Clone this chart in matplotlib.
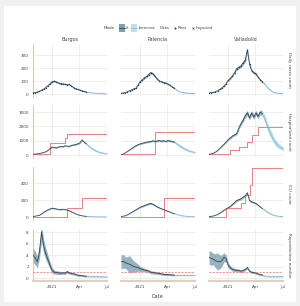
import matplotlib
matplotlib.use('Agg')
import matplotlib.pyplot as plt
from matplotlib.patches import Rectangle
import numpy as np
import pandas as pd

# ---------------- data ----------------
regions = ['Burgos', 'Palencia', 'Valladolid']
row_labels = ['Daily cases count', 'Hospitalized count', 'ICU count', 'Reproduction number']
dates = pd.date_range('2020-10-31', periods=36, freq='7D')
fit_end = 25
xtick_dates = ['2021-01-01', '2021-04-01', '2021-07-01']
xtick_labels = ['2021', 'Apr', 'Jul']
row_yticks = [[0, 100, 200, 300], [0, 1000, 2000, 3000], [0, 200, 400], [0, 2, 4, 6, 8]]

cases_burgos = [10, 10, 15, 20, 30, 38, 50, 65, 80, 95, 100, 92, 85, 80, 78, 76, 70, 74, 62, 50,
                42, 35, 30, 25, 20, 15, 12, 10, 8, 6, 5, 4, 3, 3, 2, 2]
cases_palencia = [5, 8, 10, 18, 25, 32, 40, 45, 70, 95, 110, 125, 135, 150, 165, 155, 135, 115, 100, 95,
                  88, 85, 75, 68, 55, 45, 32, 20, 15, 12, 9, 7, 5, 4, 3, 3]
cases_valladolid = [10, 10, 12, 18, 25, 35, 45, 60, 80, 105, 120, 140, 165, 195, 205, 215, 240, 260, 340, 230,
                    180, 165, 155, 130, 110, 95, 80, 60, 40, 28, 15, 10, 7, 5, 4, 3]

hosp_burgos = [50, 60, 80, 100, 140, 180, 220, 320, 450, 560, 520, 500, 560, 600, 580, 650, 620, 600, 680, 700,
               740, 780, 850, 1050, 900, 780, 650, 520, 420, 330, 260, 200, 160, 130, 100, 90]
hosp_palencia = [30, 60, 150, 250, 350, 450, 550, 650, 720, 780, 820, 860, 900, 920, 950, 1000, 940, 980, 1020, 960,
                 1000, 950, 1010, 980, 950, 900, 800, 700, 600, 500, 420, 350, 290, 240, 200, 170]
hosp_valladolid = [50, 80, 120, 200, 300, 450, 600, 750, 900, 1080, 1200, 1330, 1420, 1500, 1900, 2200, 2450, 2750,
                   2950, 2600, 2950, 2650, 2950, 2700, 3000, 2900, 2600, 2200, 1800, 1450, 1150, 900, 720, 600, 500, 420]

hcap_burgos = [80] * 8 + [850] * 7 + [1200] + [1450] * 20
hcap_palencia = [50] * 16 + [1600] * 20
hcap_valladolid = [50] * 10 + [350] * 4 + [550] * 4 + [900] * 2 + [1400] * 3 + [1950] * 13

icu_burgos = [5, 10, 15, 20, 35, 55, 70, 85, 95, 105, 100, 95, 90, 88, 92, 90, 82, 75, 62, 50,
              38, 28, 20, 15, 10, 8, 6, 5, 4, 3, 3, 2, 2, 2, 1, 1]
icu_palencia = [5, 10, 15, 25, 40, 55, 70, 85, 100, 115, 125, 135, 145, 155, 160, 150, 135, 120, 108, 98,
                88, 78, 68, 58, 48, 40, 32, 25, 18, 14, 10, 8, 6, 5, 4, 3]
icu_valladolid = [5, 8, 12, 20, 30, 45, 60, 80, 95, 110, 125, 150, 170, 195, 205, 215, 235, 250, 285, 195,
                  180, 170, 160, 140, 120, 100, 85, 65, 50, 35, 25, 18, 12, 8, 6, 5]

icap_burgos = [5] * 16 + [105] * 7 + [225] * 13
icap_palencia = [5] * 20 + [225] * 16
icap_valladolid = [5] * 8 + [105] * 7 + [160] * 2 + [260] * 2 + [380] + [580] * 16

r_burgos = [4.0, 3.5, 2.8, 4.5, 8.0, 5.5, 4.2, 3.2, 2.2, 1.3, 1.0, 0.95, 0.9, 0.85, 0.9, 0.85, 1.1, 0.9,
            0.8, 0.75, 0.6, 0.5, 0.45, 0.4, 0.35, 0.3, 0.28, 0.26, 0.25, 0.24, 0.23, 0.22, 0.22, 0.21, 0.2, 0.2]
r_palencia = [2.8, 2.9, 2.7, 2.5, 2.4, 2.2, 2.0, 1.9, 1.8, 1.6, 1.5, 1.4, 1.3, 1.2, 1.0, 0.95, 0.9, 0.85,
              0.8, 0.7, 0.65, 0.6, 0.6, 0.55, 0.55, 0.5, 0.5, 0.5, 0.5, 0.5, 0.5, 0.5, 0.5, 0.5, 0.5, 0.5]
r_valladolid = [3.6, 3.4, 3.3, 3.0, 2.9, 2.8, 3.0, 3.6, 3.4, 2.2, 1.8, 1.5, 1.4, 1.35, 1.3, 1.2, 1.3, 1.5,
                1.8, 1.2, 1.0, 0.95, 0.85, 0.7, 0.6, 0.5, 0.35, 0.3, 0.25, 0.25, 0.25, 0.25, 0.25, 0.25, 0.25, 0.25]

# relative band half-widths for counts, absolute half-widths for R
count_band_rel = [0.06] * 26 + [0.10, 0.13, 0.16, 0.19, 0.22, 0.25, 0.27, 0.29, 0.30, 0.30]
r_band_abs = [1.2, 1.2, 1.0, 1.2, 1.5, 1.2, 1.0, 0.8, 0.6, 0.45, 0.35, 0.3, 0.3, 0.25, 0.25, 0.25, 0.25,
              0.22, 0.2, 0.2, 0.18, 0.18, 0.16, 0.15, 0.15, 0.15, 0.12, 0.12, 0.12, 0.12, 0.12, 0.12,
              0.12, 0.12, 0.12, 0.12]

series = [
    [cases_burgos, cases_palencia, cases_valladolid],
    [hosp_burgos, hosp_palencia, hosp_valladolid],
    [icu_burgos, icu_palencia, icu_valladolid],
    [r_burgos, r_palencia, r_valladolid],
]
capacity = [None,
            [hcap_burgos, hcap_palencia, hcap_valladolid],
            [icap_burgos, icap_palencia, icap_valladolid],
            None]

# ---------------- style ----------------
W, H = 300, 306
FIT = '#2f4858'
FIT_BAND = '#7f9fae'
FC = '#8cbfd6'
FC_BAND = '#c2e0ec'
RED = '#ef7f7f'
GRID = '#ebe4d6'
SPINE = '#cdbda6'
TXT = '#444444'

fig = plt.figure(figsize=(W / 100, H / 100), dpi=100, facecolor='#f0f0f0')
fig.patches.append(Rectangle((4 / W, 1 - 302 / H), 292 / W, 296 / H, transform=fig.transFigure,
                             facecolor='white', edgecolor='none', zorder=-10))

col_left = [33, 121, 209]
col_w = 74
rows_px = [(44, 97), (105, 158), (167, 220), (230, 281)]
ylims = [(-23, 385), (-210, 3500), (-35, 590), (-0.52, 8.35)]

xlo = pd.Timestamp('2020-10-31')
xhi = pd.Timestamp('2021-07-01')
xt = [pd.Timestamp(d) for d in xtick_dates]

for r in range(4):
    top, bot = rows_px[r]
    for c in range(3):
        ax = fig.add_axes([col_left[c] / W, 1 - bot / H, col_w / W, (bot - top) / H])
        ax.set_facecolor('none')
        y = np.array(series[r][c], dtype=float)
        if r == 3:
            hw = np.array(r_band_abs)
        else:
            hw = y * np.array(count_band_rel)
        lo, hi = y - hw, y + hw
        d = dates
        ax.fill_between(d[:fit_end + 1], lo[:fit_end + 1], hi[:fit_end + 1], color=FIT_BAND, lw=0, alpha=0.8, zorder=2)
        ax.fill_between(d[fit_end:], lo[fit_end:], hi[fit_end:], color=FC_BAND, lw=0, zorder=2)
        ax.plot(d[fit_end:], y[fit_end:], color=FC, lw=0.7, zorder=3)
        ax.plot(d[:fit_end + 1], y[:fit_end + 1], color=FIT, lw=0.6, zorder=4)
        if r == 0:
            ax.plot(d[:fit_end + 1], y[:fit_end + 1], 'o', color=FIT, ms=1.0, mew=0, zorder=5)
        if capacity[r] is not None:
            ax.step(d, capacity[r][c], where='post', color=RED, lw=0.7, zorder=3)
        if r == 3:
            ax.axhline(1, color=RED, ls=(0, (2.5, 1.5)), lw=0.6, zorder=3)

        ax.set_xlim(xlo, xhi)
        ax.set_ylim(*ylims[r])
        ax.set_xticks(xt)
        ax.set_yticks(row_yticks[r])
        ax.grid(True, color=GRID, lw=0.4, zorder=0)
        ax.set_axisbelow(True)
        ax.tick_params(length=0, labelsize=3, colors=TXT, pad=3)
        if r == 3:
            ax.set_xticklabels(xtick_labels)
        else:
            ax.set_xticklabels([])
        if c != 0:
            ax.set_yticklabels([])
        for s in ['top', 'right']:
            ax.spines[s].set_visible(False)
        if c == 0:
            ax.spines['left'].set_color(SPINE)
            ax.spines['left'].set_linewidth(0.6)
        else:
            ax.spines['left'].set_visible(False)
        if r == 3:
            ax.spines['bottom'].set_color('#ddd3c2')
            ax.spines['bottom'].set_linewidth(1.6)
        else:
            ax.spines['bottom'].set_visible(False)
        if r == 0:
            ax.set_title(regions[c], fontsize=3.5, color=TXT, pad=2.5)
    fig.text(289 / W, 1 - ((top + bot) / 2) / H, row_labels[r], rotation=-90, fontsize=3,
             color=TXT, ha='center', va='center')

fig.text(157 / W, 1 - 296 / H, 'Date', fontsize=3.5, color=TXT, ha='center', va='center')

# legend
ly = 1 - 28 / H
def ftxt(x, s, size=3):
    fig.text(x / W, ly, s, fontsize=size, color=TXT, ha='left', va='center')

ftxt(104, 'Mode')
fig.patches.append(Rectangle((119 / W, 1 - 31.5 / H), 6 / W, 7 / H, transform=fig.transFigure,
                             facecolor=FIT_BAND, edgecolor='none'))
fig.lines.append(plt.Line2D([119 / W, 125 / W], [ly, ly], transform=fig.transFigure, color=FIT, lw=0.6))
ftxt(126.2, 'fit', 2.5)
fig.patches.append(Rectangle((131 / W, 1 - 31.5 / H), 6 / W, 7 / H, transform=fig.transFigure,
                             facecolor=FC_BAND, edgecolor='none'))
fig.lines.append(plt.Line2D([131 / W, 137 / W], [ly, ly], transform=fig.transFigure, color=FC, lw=0.6))
ftxt(139, 'forecast')
ftxt(160, 'Data')
fig.lines.append(plt.Line2D([175 / W], [ly], transform=fig.transFigure, marker='o', ms=1.5,
                            color=FIT, mew=0, ls='none'))
ftxt(178, 'Real')
fig.lines.append(plt.Line2D([193 / W], [ly], transform=fig.transFigure, marker='x', ms=1.5,
                            color=FIT, mew=0.4, ls='none'))
ftxt(196, 'Imputed')

fig.savefig('out.png', dpi=100, facecolor=fig.get_facecolor())
